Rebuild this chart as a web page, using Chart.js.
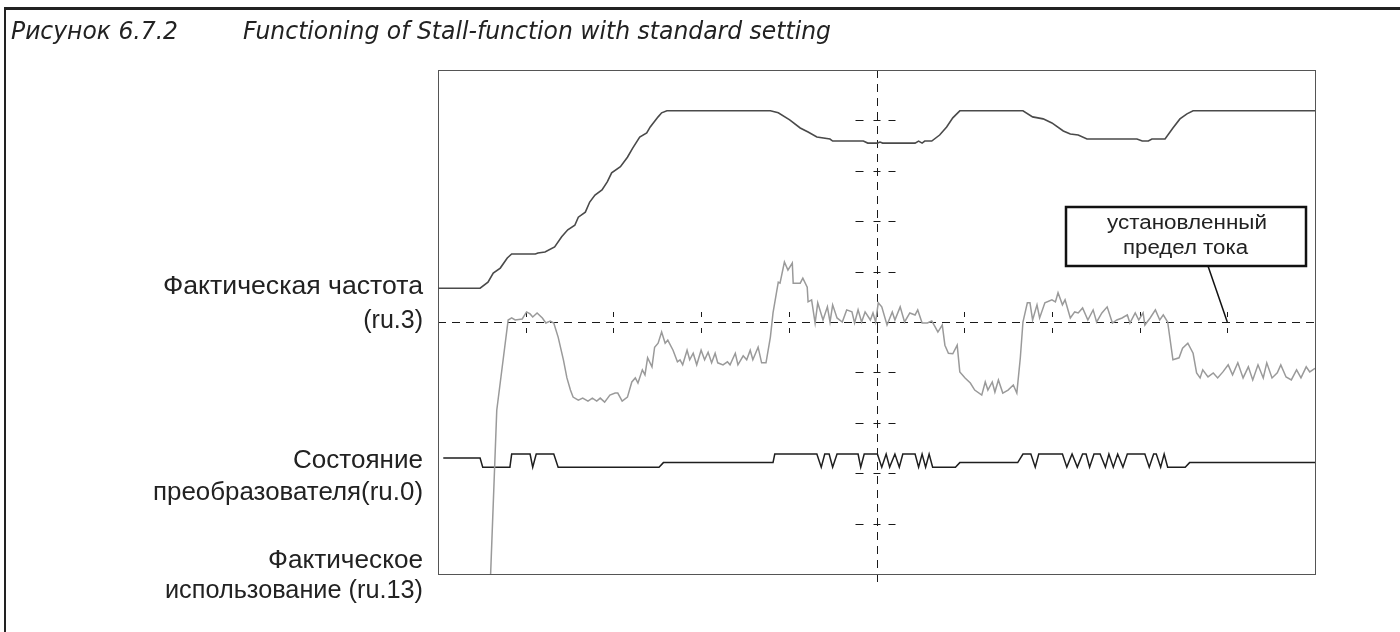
<!DOCTYPE html>
<html>
<head>
<meta charset="utf-8">
<title>Stall-function</title>
<script src="https://cdn.jsdelivr.net/npm/chart.js@4.4.1/dist/chart.umd.min.js"></script>
<style>
  html, body { margin: 0; padding: 0; background: #fff; }
  #wrap { position: relative; width: 1400px; height: 632px; }
</style>
</head>
<body>
<div id="wrap"><canvas id="stall" width="1400" height="632"></canvas></div>
<script>
// time axis in screen divisions (0..10), amplitude in divisions (0..10)
var divX = [0, 1, 2, 3, 4, 5, 6, 7, 8, 9, 10];
var divY = [0, 1, 2, 3, 4, 5, 6, 7, 8, 9, 10];

// Фактическая частота (ru.3)
var freqTrace = [
  [0, 5.67], [0.48, 5.67], [0.57, 5.79], [0.63, 5.97], [0.71, 6.07], [0.79, 6.27], [0.84, 6.35],
  [1.11, 6.35], [1.14, 6.37], [1.22, 6.39], [1.33, 6.49], [1.41, 6.69], [1.48, 6.83], [1.56, 6.92],
  [1.60, 7.08], [1.68, 7.18], [1.73, 7.38], [1.79, 7.52], [1.87, 7.62], [1.93, 7.78], [1.98, 7.96],
  [2.08, 8.08], [2.16, 8.27], [2.22, 8.45], [2.30, 8.67], [2.38, 8.75], [2.42, 8.87], [2.51, 9.07],
  [2.55, 9.15], [2.61, 9.19], [3.79, 9.19], [3.88, 9.15], [4.01, 9.01], [4.13, 8.85], [4.22, 8.77],
  [4.32, 8.67], [4.47, 8.63], [4.50, 8.59], [4.85, 8.59], [4.90, 8.55], [5.01, 8.55], [5.04, 8.57],
  [5.07, 8.55], [5.44, 8.55], [5.48, 8.59], [5.52, 8.55], [5.55, 8.59], [5.63, 8.59], [5.72, 8.71],
  [5.80, 8.87], [5.87, 9.05], [5.95, 9.19], [6.67, 9.19], [6.78, 9.07], [6.90, 9.03], [7.00, 8.95],
  [7.13, 8.79], [7.21, 8.73], [7.30, 8.71], [7.40, 8.63], [7.97, 8.63], [8.03, 8.59], [8.10, 8.59],
  [8.14, 8.63], [8.29, 8.63], [8.38, 8.85], [8.46, 9.03], [8.54, 9.13], [8.61, 9.19], [10, 9.19]
];

// Фактическое использование (ru.13)
var loadTrace = [
  [0.60, 0], [0.67, 3.25], [0.80, 5.04], [0.84, 5.08], [0.88, 5.04], [0.96, 5.06], [1.01, 5.20],
  [1.05, 5.16], [1.08, 5.10], [1.13, 5.18], [1.19, 5.08], [1.23, 4.98], [1.28, 5.02], [1.32, 4.98],
  [1.37, 4.70], [1.43, 4.25], [1.47, 3.89], [1.51, 3.65], [1.54, 3.51], [1.60, 3.45], [1.65, 3.49],
  [1.71, 3.43], [1.76, 3.49], [1.81, 3.43], [1.85, 3.49], [1.90, 3.41], [1.96, 3.55], [2.02, 3.59],
  [2.05, 3.59], [2.10, 3.43], [2.16, 3.51], [2.21, 3.81], [2.25, 3.89], [2.28, 3.79], [2.33, 4.05],
  [2.36, 3.95], [2.39, 4.29], [2.44, 4.11], [2.47, 4.50], [2.51, 4.58], [2.55, 4.80], [2.59, 4.58],
  [2.62, 4.64], [2.68, 4.44], [2.73, 4.21], [2.76, 4.25], [2.79, 4.15], [2.84, 4.44], [2.87, 4.25],
  [2.91, 4.38], [2.95, 4.15], [3.00, 4.44], [3.04, 4.25], [3.08, 4.40], [3.12, 4.19], [3.16, 4.38],
  [3.19, 4.19], [3.25, 4.15], [3.30, 4.21], [3.33, 4.15], [3.39, 4.38], [3.42, 4.15], [3.48, 4.33],
  [3.52, 4.25], [3.56, 4.44], [3.59, 4.25], [3.65, 4.50], [3.69, 4.19], [3.74, 4.19], [3.79, 4.70],
  [3.82, 5.18], [3.88, 5.79], [3.90, 5.77], [3.95, 6.19], [3.99, 6.03], [4.04, 6.17], [4.05, 5.77],
  [4.13, 5.77], [4.16, 5.87], [4.21, 5.69], [4.22, 5.40], [4.26, 5.44], [4.30, 4.98], [4.33, 5.38],
  [4.39, 5.04], [4.44, 5.30], [4.47, 5.00], [4.50, 5.34], [4.55, 5.08], [4.61, 5.00], [4.66, 5.24],
  [4.72, 5.20], [4.75, 4.98], [4.79, 5.24], [4.83, 5.00], [4.87, 5.20], [4.93, 5.04], [4.96, 5.18],
  [4.99, 5.00], [5.02, 5.38], [5.06, 5.30], [5.12, 4.94], [5.18, 5.20], [5.21, 5.04], [5.27, 5.30],
  [5.32, 5.00], [5.38, 5.18], [5.44, 5.14], [5.47, 5.24], [5.52, 4.98], [5.58, 4.98], [5.63, 5.02],
  [5.67, 4.90], [5.70, 4.80], [5.75, 4.94], [5.78, 4.54], [5.82, 4.38], [5.87, 4.37], [5.92, 4.54],
  [5.95, 4.01], [6.01, 3.89], [6.07, 3.79], [6.12, 3.65], [6.20, 3.55], [6.24, 3.81], [6.27, 3.65],
  [6.32, 3.81], [6.35, 3.61], [6.39, 3.85], [6.44, 3.59], [6.50, 3.65], [6.56, 3.75], [6.60, 3.59],
  [6.64, 4.29], [6.67, 5.00], [6.72, 5.38], [6.75, 5.38], [6.78, 5.04], [6.83, 5.34], [6.86, 5.08],
  [6.92, 5.38], [7.00, 5.44], [7.04, 5.40], [7.07, 5.58], [7.12, 5.34], [7.15, 5.44], [7.21, 5.08],
  [7.26, 5.20], [7.30, 5.18], [7.35, 5.28], [7.41, 5.04], [7.47, 5.24], [7.51, 5.00], [7.57, 5.18],
  [7.63, 5.30], [7.69, 4.98], [7.74, 5.04], [7.80, 5.08], [7.86, 5.14], [7.89, 4.98], [7.95, 5.18],
  [7.99, 5.04], [8.04, 5.18], [8.06, 4.94], [8.12, 5.08], [8.18, 5.24], [8.23, 5.04], [8.27, 5.14],
  [8.32, 5.00], [8.38, 4.25], [8.45, 4.29], [8.49, 4.48], [8.55, 4.58], [8.61, 4.38], [8.65, 3.99],
  [8.69, 3.89], [8.72, 4.05], [8.78, 3.91], [8.84, 3.99], [8.89, 3.89], [8.95, 4.01], [9.01, 4.15],
  [9.06, 3.95], [9.12, 4.19], [9.18, 3.89], [9.24, 4.11], [9.29, 3.85], [9.35, 4.15], [9.41, 3.89],
  [9.45, 4.19], [9.51, 3.89], [9.57, 3.99], [9.61, 4.15], [9.67, 3.91], [9.73, 3.85], [9.79, 4.05],
  [9.84, 3.89], [9.90, 4.11], [9.94, 4.01], [10, 4.08]
];

// Состояние преобразователя (ru.0)
var statusTrace = [
  [0.06, 2.30], [0.48, 2.30], [0.51, 2.12], [0.82, 2.12], [0.84, 2.38], [1.05, 2.38], [1.08, 2.12],
  [1.12, 2.38], [1.32, 2.38], [1.37, 2.12], [2.52, 2.12], [2.57, 2.21], [3.82, 2.21], [3.84, 2.38],
  [4.32, 2.38], [4.37, 2.12], [4.41, 2.38], [4.46, 2.38], [4.50, 2.12], [4.55, 2.38], [4.79, 2.38],
  [4.82, 2.12], [4.86, 2.38], [5.01, 2.38], [5.06, 2.12], [5.11, 2.38], [5.15, 2.12], [5.21, 2.38],
  [5.26, 2.12], [5.30, 2.38], [5.44, 2.38], [5.48, 2.12], [5.52, 2.38], [5.56, 2.12], [5.60, 2.38],
  [5.64, 2.12], [5.90, 2.12], [5.95, 2.21], [6.61, 2.21], [6.67, 2.38], [6.76, 2.38], [6.81, 2.12],
  [6.85, 2.38], [7.12, 2.38], [7.17, 2.12], [7.23, 2.38], [7.29, 2.12], [7.35, 2.38], [7.39, 2.38],
  [7.43, 2.12], [7.48, 2.38], [7.55, 2.38], [7.61, 2.12], [7.65, 2.38], [7.70, 2.12], [7.75, 2.38],
  [7.81, 2.12], [7.86, 2.38], [8.06, 2.38], [8.11, 2.12], [8.16, 2.38], [8.19, 2.38], [8.24, 2.12],
  [8.28, 2.38], [8.32, 2.12], [8.52, 2.12], [8.57, 2.21], [10, 2.21]
];

var traceLabels = ['Фактическая частота (ru.3)', 'Фактическое использование (ru.13)', 'Состояние преобразователя(ru.0)'];
var limitNote = ['установленный', 'предел тока'];
var limitAt = [9, 5];

function toXY(arr) {
  return arr.map(function (p) { return { x: p[0], y: p[1] }; });
}

// draw text squeezed/stretched to a given width (x0 = left edge)
function fitText(ctx, str, x0, y, w) {
  var m = ctx.measureText(str).width;
  ctx.save();
  ctx.translate(x0, y);
  ctx.scale(w / m, 1);
  ctx.textAlign = 'left';
  ctx.fillText(str, 0, 0);
  ctx.restore();
}

// scope grid: centre cross, division marks, frame
var scopeGrid = {
  id: 'scopeGrid',
  beforeDatasetsDraw: function (chart) {
    var ctx = chart.ctx, a = chart.chartArea;
    var sx = chart.scales.x, sy = chart.scales.y;
    var cx = sx.getPixelForValue(5), cy = sy.getPixelForValue(5);
    ctx.save();
    ctx.strokeStyle = '#1a1a1a';
    ctx.lineWidth = 1;
    ctx.setLineDash([8, 6]);
    ctx.beginPath();
    ctx.moveTo(a.left, Math.round(cy) + 0.5); ctx.lineTo(a.right, Math.round(cy) + 0.5);
    ctx.moveTo(Math.round(cx) + 0.5, a.top); ctx.lineTo(Math.round(cx) + 0.5, a.bottom + 9);
    ctx.stroke();
    ctx.setLineDash([]);
    ctx.beginPath();
    divY.forEach(function (v) {
      var y = Math.round(sy.getPixelForValue(v)) + 0.5;
      ctx.moveTo(cx - 21, y); ctx.lineTo(cx - 13, y);
      ctx.moveTo(cx - 3, y); ctx.lineTo(cx + 4, y);
      ctx.moveTo(cx + 12, y); ctx.lineTo(cx + 19, y);
    });
    divX.forEach(function (v) {
      var x = Math.round(sx.getPixelForValue(v)) + 0.5;
      ctx.moveTo(x, cy - 10); ctx.lineTo(x, cy - 5);
      ctx.moveTo(x, cy + 6); ctx.lineTo(x, cy + 11);
    });
    ctx.stroke();
    ctx.strokeStyle = '#555';
    ctx.lineWidth = 1;
    ctx.strokeRect(a.left + 0.5, a.top + 0.5, a.right - a.left, a.bottom - a.top);
    ctx.restore();
  },
  afterDraw: function (chart) {
    var ctx = chart.ctx, a = chart.chartArea;
    var sx = chart.scales.x, sy = chart.scales.y;
    ctx.save();
    // page frame
    ctx.fillStyle = '#222';
    ctx.fillRect(4, 7, 1396, 3);
    ctx.fillRect(4, 7, 2, 625);
    // caption
    ctx.fillStyle = '#222';
    ctx.textBaseline = 'middle';
    ctx.font = 'italic 25px "Liberation Sans Narrow", "DejaVu Sans Condensed", sans-serif';
    fitText(ctx, 'Рисунок 6.7.2', 11, 32, 167);
    fitText(ctx, 'Functioning of Stall-function with standard setting', 243, 32, 588);
    // trace names, right edge at 423
    ctx.font = '25px "Liberation Sans", Arial, sans-serif';
    var names = [
      ['Фактическая частота', 287, 260],
      ['(ru.3)', 321, 0],
      ['Состояние', 461, 130],
      ['преобразователя(ru.0)', 493, 270],
      ['Фактическое', 561, 155],
      ['использование (ru.13)', 591, 258]
    ];
    names.forEach(function (n) {
      var w = n[2] || ctx.measureText(n[0]).width;
      fitText(ctx, n[0], 423 - w, n[1], w);
    });
    // current limit callout
    var px = sx.getPixelForValue(limitAt[0]), py = sy.getPixelForValue(limitAt[1]);
    var bx = 1066, by = 207, bw = 240, bh = 59;
    ctx.strokeStyle = '#111';
    ctx.lineWidth = 1.5;
    ctx.beginPath();
    ctx.moveTo(bx + 142, by + bh);
    ctx.lineTo(px, py);
    ctx.stroke();
    ctx.fillStyle = '#fff';
    ctx.fillRect(bx, by, bw, bh);
    ctx.lineWidth = 2.5;
    ctx.strokeRect(bx, by, bw, bh);
    ctx.fillStyle = '#222';
    ctx.font = '20px "Liberation Sans", Arial, sans-serif';
    fitText(ctx, limitNote[0], 1107, by + 16, 160);
    fitText(ctx, limitNote[1], 1123, by + 41, 125);
    ctx.restore();
  }
};

var canvas = document.getElementById('stall');
new Chart(canvas.getContext('2d'), {
  type: 'line',
  data: {
    datasets: [{
      label: traceLabels[0],
      data: toXY(freqTrace),
      borderColor: '#4a4a4a',
      borderWidth: 1.6
    }, {
      label: traceLabels[1],
      data: toXY(loadTrace),
      borderColor: '#9a9a9a',
      borderWidth: 1.5
    }, {
      label: traceLabels[2],
      data: toXY(statusTrace),
      borderColor: '#1e1e1e',
      borderWidth: 1.5
    }]
  },
  options: {
    responsive: false,
    animation: false,
    devicePixelRatio: 1,
    layout: { padding: { left: 438, right: 85, top: 70, bottom: 58 } },
    elements: { point: { radius: 0 }, line: { tension: 0 } },
    plugins: { legend: { display: false }, tooltip: { enabled: false }, title: { display: false } },
    scales: {
      x: { type: 'linear', min: 0, max: 10, display: false },
      y: { type: 'linear', min: 0, max: 10, display: false }
    }
  },
  plugins: [scopeGrid]
});
</script>
</body>
</html>
